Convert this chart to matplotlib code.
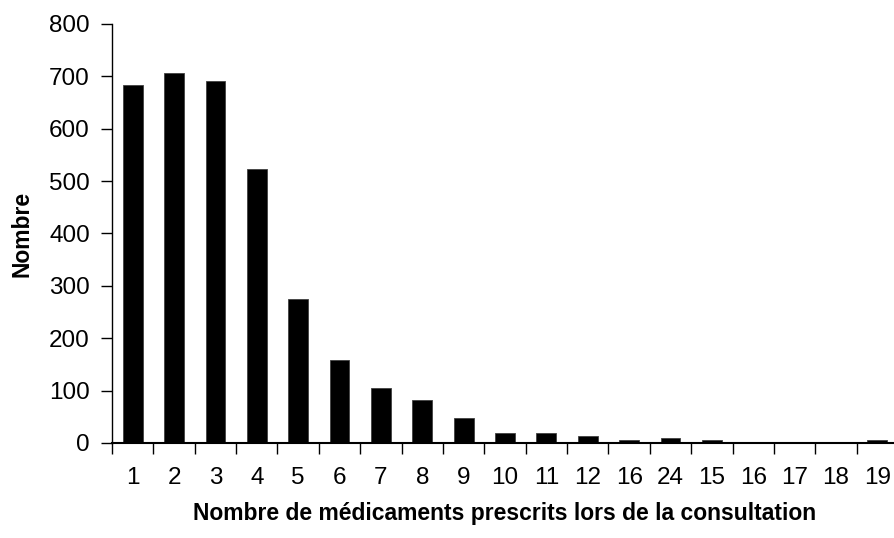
import numpy as np
import matplotlib
matplotlib.use('Agg')
import matplotlib.pyplot as plt

plt.rcParams['font.family'] = ['Liberation Sans', 'DejaVu Sans']

# Données
categories = ['1', '2', '3', '4', '5', '6', '7', '8', '9', '10',
              '11', '12', '16', '24', '15', '16', '17', '18', '19']
values = [684, 707, 692, 523, 275, 158, 105, 82, 47, 20,
          20, 13, 5, 9, 5, 0, 0, 0, 5]

fig = plt.figure(figsize=(8.94, 5.38), dpi=100)
ax = fig.add_axes([0.1253, 0.1766, 0.8792, 0.7788])

x = np.arange(len(categories))
ax.bar(x, values, width=0.48, color='black', edgecolor='#404040', linewidth=0.6)

ax.set_xlim(-0.5, len(categories) - 0.5)
ax.set_ylim(0, 800)
ax.set_yticks(np.arange(0, 801, 100))

# ticks aux limites des catégories, étiquettes au centre
ax.set_xticks(np.arange(-0.5, len(categories), 1.0))
ax.set_xticklabels([])
ax.set_xticks(x, minor=True)
ax.set_xticklabels(categories, minor=True)
ax.tick_params(axis='x', which='major', direction='out', length=8, width=1)
ax.tick_params(axis='x', which='minor', length=0, pad=17, labelsize=17.5)
ax.tick_params(axis='y', direction='out', length=8, width=1, labelsize=17.5, pad=8)

for s in ['top', 'right']:
    ax.spines[s].set_visible(False)
ax.spines['left'].set_linewidth(1)
ax.spines['bottom'].set_linewidth(1.5)

ax.set_ylabel('Nombre', fontsize=16.5, fontweight='bold', labelpad=11)
ax.set_xlabel('Nombre de médicaments prescrits lors de la consultation',
              fontsize=16.5, fontweight='bold', labelpad=10)

fig.savefig('out.png', dpi=100)
